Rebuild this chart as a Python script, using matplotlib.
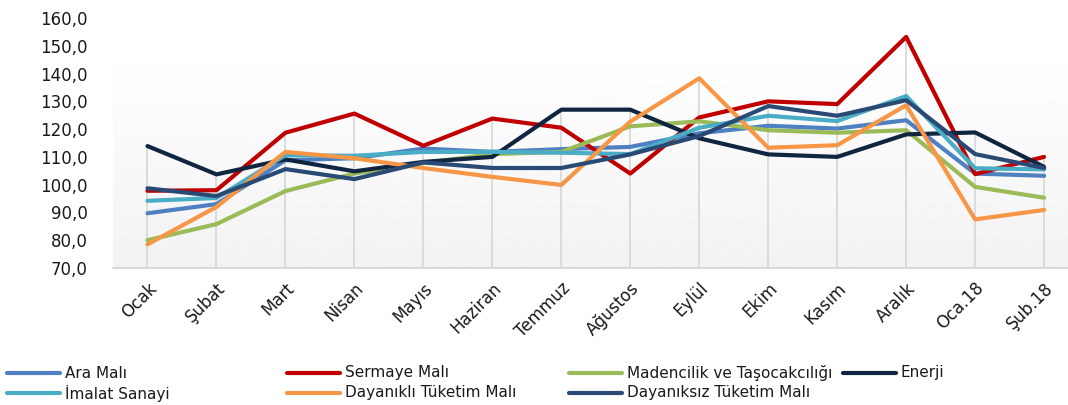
import matplotlib
matplotlib.use("Agg")
import matplotlib.pyplot as plt
import numpy as np
from matplotlib.lines import Line2D
from matplotlib.ticker import FuncFormatter

months = ["Ocak", "Şubat", "Mart", "Nisan", "Mayıs", "Haziran", "Temmuz",
          "Ağustos", "Eylül", "Ekim", "Kasım", "Aralık", "Oca.18", "Şub.18"]

ara_mali = [89.7, 93.0, 108.8, 109.5, 113.0, 111.8, 112.8, 113.6, 118.5, 121.2, 120.2, 123.2, 104.0, 103.2]
sermaye = [97.8, 98.0, 118.7, 125.6, 114.0, 123.8, 120.5, 104.0, 124.2, 130.0, 129.0, 153.2, 103.8, 110.0]
madencilik = [80.0, 85.8, 97.7, 104.0, 107.8, 111.0, 111.8, 121.0, 122.8, 119.6, 118.7, 119.6, 99.2, 95.3]
enerji = [113.9, 103.7, 109.1, 104.8, 108.2, 110.0, 127.0, 127.0, 116.7, 110.9, 110.0, 118.1, 118.8, 106.4]
imalat = [94.2, 95.2, 110.6, 110.4, 111.8, 111.8, 111.5, 111.0, 120.5, 124.8, 122.9, 131.9, 105.9, 105.5]
dayanikli = [78.5, 92.0, 111.8, 109.5, 106.0, 102.8, 99.9, 122.7, 138.3, 113.3, 114.2, 128.6, 87.5, 90.9]
dayaniksiz = [98.7, 95.9, 105.6, 102.0, 108.0, 106.0, 106.0, 110.9, 117.5, 128.3, 124.8, 130.4, 111.0, 106.0]

series = [
    ("Ara Malı", ara_mali, "#4f81c2"),
    ("Sermaye Malı", sermaye, "#c00000"),
    ("Madencilik ve Taşocakcılığı", madencilik, "#9bbb59"),
    ("Enerji", enerji, "#10253f"),
    ("İmalat Sanayi", imalat, "#4bacc6"),
    ("Dayanıklı Tüketim Malı", dayanikli, "#f79646"),
    ("Dayanıksız Tüketim Malı", dayaniksiz, "#2a4a76"),
]

W, H = 1068, 405
fig = plt.figure(figsize=(W / 100, H / 100), dpi=100)
left, right, top, bottom = 113, 1068, 18, 268
ax = fig.add_axes([left / W, 1 - bottom / H, (right - left) / W, (bottom - top) / H])

x = np.arange(len(months))
xmax = 13 + (right - 1044) / 69.3

# plot-area gradient (white at top to light grey at the axis)
grad = np.linspace(1.0, 0.95, 256).reshape(-1, 1)
ax.imshow(grad, cmap="gray", vmin=0, vmax=1, aspect="auto",
          extent=(-0.5, xmax, 70, 148.5), zorder=0, origin="upper")

# drop lines: from the highest series value down to the axis
tops = np.max([vals for _, vals, _ in series], axis=0)
ax.vlines(x, 70, tops, color="#d9d9d9", lw=1.3, zorder=1)

for name, vals, col in series:
    ax.plot(x, vals, color=col, lw=3.0, solid_capstyle="round", zorder=3)

ax.set_xlim(-0.5, xmax)
ax.set_ylim(70, 160)
ax.set_yticks(np.arange(70, 161, 10))
ax.yaxis.set_major_formatter(FuncFormatter(lambda v, p: f"{v:.1f}".replace(".", ",")))
ax.set_xticks(x)
ax.set_xticklabels(months, rotation=45, ha="right", rotation_mode="anchor")
ax.tick_params(axis="both", length=0, labelsize=12, colors="#1a1a1a")
ax.tick_params(axis="y", pad=18)
ax.tick_params(axis="x", pad=8)
for s in ["top", "right", "left"]:
    ax.spines[s].set_visible(False)
ax.spines["bottom"].set_color("#d9d9d9")
ax.spines["bottom"].set_linewidth(1.5)

# legend laid out in a fixed grid like the original
col_x = [7, 287, 569, 843]
row_y = [373, 393]
for i, (name, vals, col) in enumerate(series):
    r, c = divmod(i, 4)
    x0 = col_x[c] / W
    y0 = 1 - row_y[r] / H
    fig.add_artist(Line2D([x0, x0 + 53 / W], [y0, y0], color=col, lw=3.0,
                          solid_capstyle="round", transform=fig.transFigure))
    fig.text(x0 + 58 / W, y0, name, fontsize=11, va="center", ha="left", color="#1a1a1a")

fig.savefig("out.png", dpi=100)
